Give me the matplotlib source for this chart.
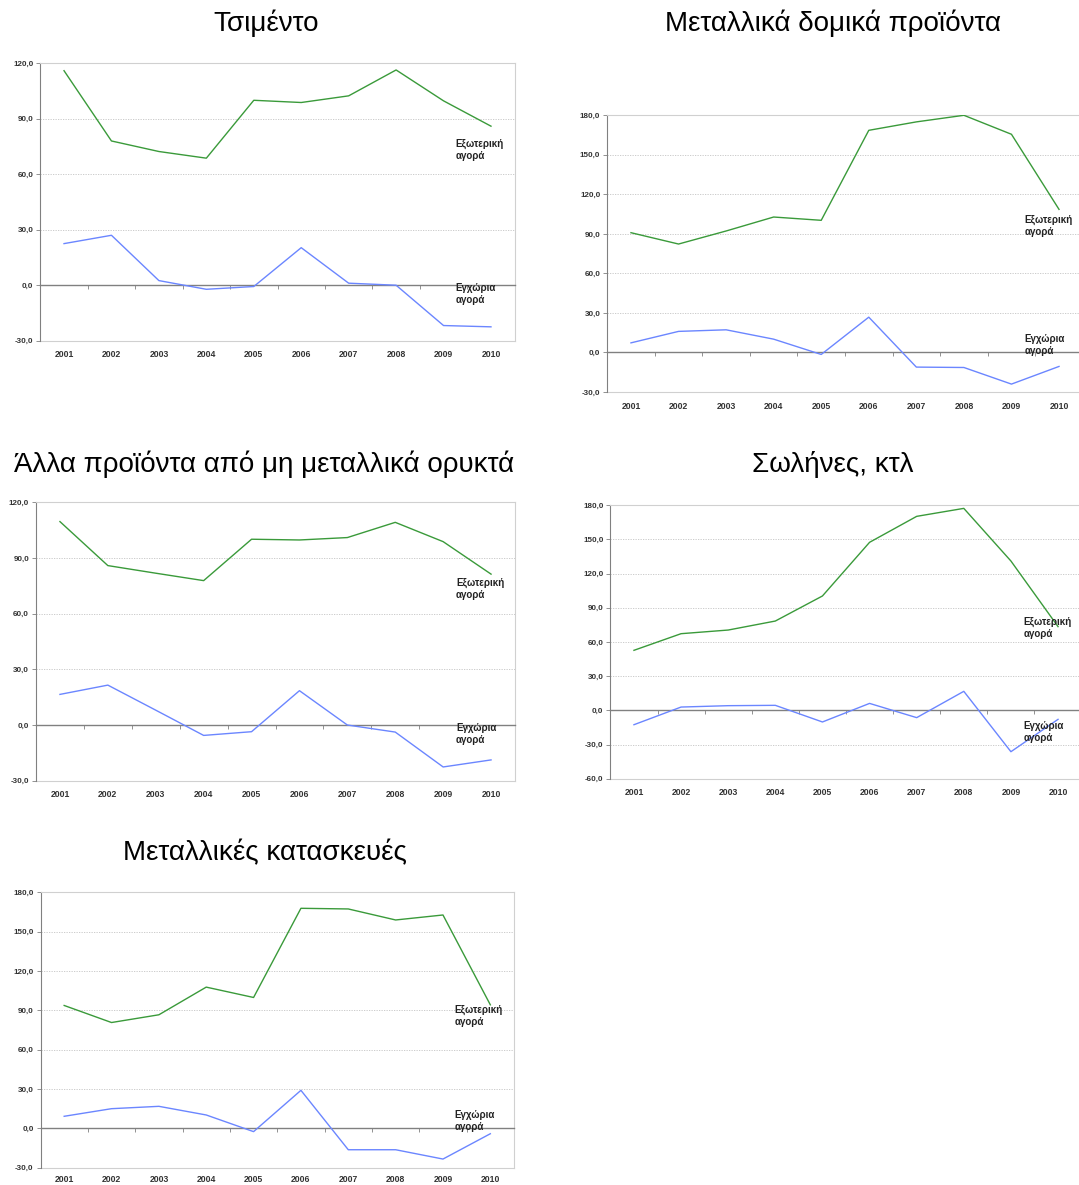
import numpy as np
import matplotlib
matplotlib.use("Agg")
import matplotlib.pyplot as plt

plt.rcParams['font.family'] = ['Liberation Sans', 'DejaVu Sans']

years = ['2001', '2002', '2003', '2004', '2005', '2006', '2007', '2008', '2009', '2010']

# Τσιμέντο
cement_ext = [116.0, 78.0, 72.3, 68.7, 100.0, 98.8, 102.4, 116.4, 99.7, 86.0]
cement_dom = [22.5, 27.0, 2.5, -2.2, -0.7, 20.3, 1.1, 0.0, -21.8, -22.5]

# Μεταλλικά δομικά προϊόντα
metal_ext = [90.9, 82.3, 92.2, 102.8, 100.3, 168.6, 175.0, 180.0, 165.6, 108.6]
metal_dom = [7.3, 16.0, 17.2, 10.1, -1.5, 26.8, -11.1, -11.4, -24.0, -10.6]

# Άλλα προϊόντα από μη μεταλλικά ορυκτά
other_ext = [109.6, 85.9, 81.8, 77.8, 100.1, 99.7, 101.0, 109.2, 98.8, 81.3]
other_dom = [16.5, 21.5, 8.0, -5.6, -3.6, 18.5, 0.0, -3.8, -22.6, -18.8]

# Σωλήνες, κτλ
pipes_ext = [52.7, 67.3, 70.5, 78.4, 100.4, 147.5, 170.3, 177.3, 131.1, 73.5]
pipes_dom = [-12.6, 2.9, 4.1, 4.4, -10.2, 6.1, -6.4, 16.7, -36.3, -7.9]

# Μεταλλικές κατασκευές
constr_ext = [93.7, 80.7, 86.6, 107.7, 99.8, 167.8, 167.3, 158.9, 162.7, 94.2]
constr_dom = [9.2, 15.0, 16.8, 10.2, -2.5, 29.0, -16.3, -16.3, -23.4, -4.1]

titles = ['Τσιμέντο', 'Μεταλλικά δομικά προϊόντα',
          'Άλλα προϊόντα από μη μεταλλικά ορυκτά', 'Σωλήνες, κτλ',
          'Μεταλλικές κατασκευές']

GREEN = '#3a9a3a'
BLUE = '#6b86ff'
W, H = 1079, 1185

fig = plt.figure(figsize=(W / 100, H / 100), dpi=100)


def px_axes(l, t, r, b):
    return fig.add_axes([l / W, 1 - b / H, (r - l) / W, (b - t) / H])


def panel(box, ext, dom, ylim, title, title_xy, lab_x, lab_y_ext, lab_y_dom,
          xpad=7):
    ax = px_axes(*box)
    x = np.arange(len(years))
    ax.plot(x, ext, color=GREEN, lw=1.0, zorder=3)
    ax.plot(x, dom, color=BLUE, lw=1.0, zorder=3)
    ax.set_xlim(-0.5, len(years) - 0.5)
    ax.set_ylim(*ylim)
    yt = np.arange(ylim[0], ylim[1] + 1, 30)
    ax.set_yticks(yt)
    ax.set_yticklabels([('%.1f' % v).replace('.', ',') for v in yt])
    ax.tick_params(axis='y', length=3, width=0.6, color='#808080', pad=2,
                   labelsize=5.8, labelcolor='#333333')
    for lbl in ax.get_yticklabels():
        lbl.set_fontweight('bold')
    for v in yt:
        if v != 0 and v != ylim[1] and v != ylim[0]:
            ax.axhline(v, color='#c4c4c4', lw=0.6, ls=(0, (1.5, 1.5)), zorder=1)

    # zero axis with ticks between categories
    ax.spines['bottom'].set_position(('data', 0))
    ax.spines['bottom'].set_color('#808080')
    ax.spines['bottom'].set_linewidth(1.0)
    ax.set_xticks(x)
    ax.set_xticklabels([])
    ax.tick_params(axis='x', which='major', length=0)
    ax.set_xticks(np.arange(0.5, len(years) - 1, 1), minor=True)
    ax.tick_params(axis='x', which='minor', length=3, width=0.6,
                   color='#808080', direction='out')

    sec = ax.secondary_xaxis('bottom')
    sec.set_xticks(x, labels=years)
    sec.tick_params(length=0, pad=xpad, labelsize=6.2, labelcolor='#333333')
    for lbl in sec.get_xticklabels():
        lbl.set_fontweight('bold')
    sec.spines['bottom'].set_color('#d0d0d0')
    sec.spines['bottom'].set_linewidth(0.8)

    ax.spines['left'].set_color('#808080')
    ax.spines['left'].set_linewidth(0.8)
    for s in ('top', 'right'):
        ax.spines[s].set_color('#d0d0d0')
        ax.spines[s].set_linewidth(0.8)

    ax.text(lab_x, lab_y_ext, 'Εξωτερική\nαγορά', transform=ax.transAxes,
            fontsize=7, fontweight='bold', color='#222222', va='center',
            ha='left', linespacing=1.25, zorder=4)
    ax.text(lab_x, lab_y_dom, 'Εγχώρια\nαγορά', transform=ax.transAxes,
            fontsize=7, fontweight='bold', color='#222222', va='center',
            ha='left', linespacing=1.25, zorder=4)

    fig.text(title_xy[0] / W, 1 - title_xy[1] / H, title, fontsize=20,
             ha='center', va='center', color='black')
    return ax


panel((40.3, 63.3, 514.7, 340.7), cement_ext, cement_dom, (-30, 120),
      titles[0], (266, 23), 0.876, 0.687, 0.168)
panel((607.2, 115.3, 1082.8, 392), metal_ext, metal_dom, (-30, 180),
      titles[1], (833, 23), 0.878, 0.602, 0.17)
panel((36, 502.3, 515, 780.7), other_ext, other_dom, (-30, 120),
      titles[2], (264, 464), 0.877, 0.689, 0.169)
panel((610.4, 505.3, 1081.6, 778.7), pipes_ext, pipes_dom, (-60, 180),
      titles[3], (833, 464), 0.876, 0.55, 0.171)
panel((40.5, 892.3, 514, 1167.7), constr_ext, constr_dom, (-30, 180),
      titles[4], (265, 853), 0.875, 0.551, 0.171, xpad=5)

fig.savefig('out.png', dpi=100)
